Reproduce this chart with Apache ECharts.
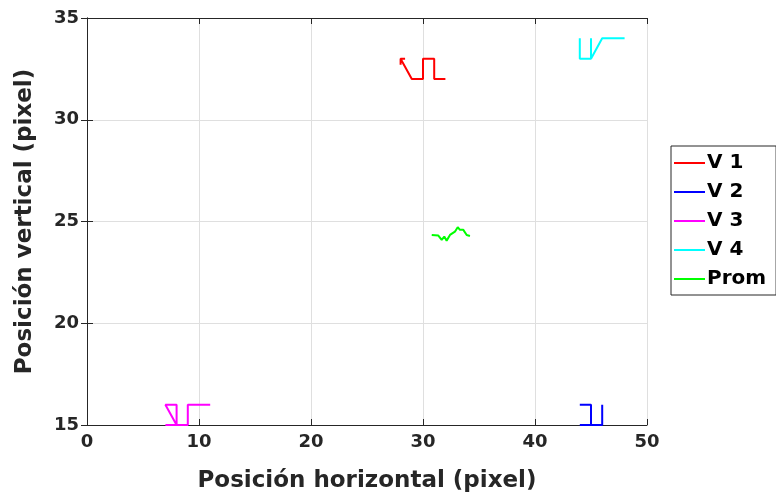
<!DOCTYPE html>
<html>
<head>
<meta charset="utf-8">
<script src="https://cdn.jsdelivr.net/npm/echarts@6/dist/echarts.min.js"></script>
<style>html,body{margin:0;padding:0;background:#fff}#c{width:776px;height:496px}</style>
</head>
<body>
<div id="c"></div>
<script>
const seriesNames = ['V 1', 'V 2', 'V 3', 'V 4', 'Prom'];
const seriesColors = ['#ff0000', '#0000ff', '#ff00ff', '#00ffff', '#00ff00'];
const v1X = [28.4, 28, 28, 28, 29, 30, 30, 31, 31, 32];
const v1Y = [33, 33, 32.7, 33, 32, 32, 33, 33, 32, 32];
const v2X = [44, 45, 45, 44, 46, 46];
const v2Y = [16, 16, 15, 15, 15, 16];
const v3X = [8, 8, 7, 8, 7, 9, 9, 11];
const v3Y = [15, 16, 16, 15, 15, 15, 16, 16];
const v4X = [44, 44, 45, 45, 45, 46, 48];
const v4Y = [34, 33, 33, 34, 33, 34, 34];
const promX = [30.78, 31.37, 31.67, 31.9, 32.11, 32.41, 32.85, 33.1, 33.3, 33.6, 33.9, 34.19];
const promY = [24.34, 24.31, 24.1, 24.26, 24.06, 24.34, 24.5, 24.72, 24.59, 24.59, 24.34, 24.29];
const xTicks = [0, 10, 20, 30, 40, 50];
const yTicks = [15, 20, 25, 30, 35];

const xs = [v1X, v2X, v3X, v4X, promX];
const ys = [v1Y, v2Y, v3Y, v4Y, promY];
const FONT = '"DejaVu Sans", sans-serif';
const axisCol = '#262626';

const series = seriesNames.map((n, i) => ({
  name: n, type: 'line', showSymbol: false, symbol: 'none',
  data: xs[i].map((x, k) => [x, ys[i][k]]),
  lineStyle: { color: seriesColors[i], width: 2 },
  itemStyle: { color: seriesColors[i] },
  animation: false
}));

const chart = echarts.init(document.getElementById('c'));
chart.setOption({
  animation: false,
  backgroundColor: '#ffffff',
  grid: { left: 87, right: 129, top: 18, bottom: 71, show: false, containLabel: false, outerBoundsMode: 'none' },
  legend: {
    data: seriesNames.map(n => ({ name: n, icon: 'rect' })),
    orient: 'vertical', left: 671, top: 146,
    itemWidth: 31, itemHeight: 2, itemGap: 9,
    padding: [7, 10, 6, 3],
    borderColor: '#262626', borderWidth: 1, backgroundColor: '#fff',
    textStyle: { fontFamily: FONT, fontWeight: 'bold', fontSize: 20, color: '#000', padding: [0, 0, 0, -3] }
  },
  xAxis: [{
    type: 'value', min: 0, max: 50, interval: 10,
    name: 'Posición horizontal (pixel)', nameLocation: 'middle', nameGap: 45,
    nameTextStyle: { fontFamily: FONT, fontWeight: 'bold', fontSize: 23, color: '#262626' },
    axisLine: { show: true, lineStyle: { color: axisCol, width: 1 } },
    axisTick: { show: true, inside: true, length: 6, lineStyle: { color: axisCol } },
    axisLabel: { fontFamily: FONT, fontWeight: 'bold', fontSize: 18, color: '#262626', margin: 8,
      formatter: v => xTicks.includes(v) ? String(v) : '' },
    splitLine: { show: true, lineStyle: { color: '#dfdfdf', width: 1 } }
  }, {
    type: 'value', min: 0, max: 50, interval: 10, position: 'top',
    axisLine: { show: true, lineStyle: { color: axisCol, width: 1 } },
    axisTick: { show: true, inside: true, length: 6, lineStyle: { color: axisCol } },
    axisLabel: { show: false }, splitLine: { show: false }
  }],
  yAxis: [{
    type: 'value', min: 15, max: 35, interval: 5,
    name: 'Posición vertical (pixel)', nameLocation: 'middle', nameGap: 50,
    nameTextStyle: { fontFamily: FONT, fontWeight: 'bold', fontSize: 23, color: '#262626' },
    axisLine: { show: true, lineStyle: { color: axisCol, width: 1 } },
    axisTick: { show: true, inside: true, length: 6, lineStyle: { color: axisCol } },
    axisLabel: { fontFamily: FONT, fontWeight: 'bold', fontSize: 18, color: '#262626', margin: 8,
      formatter: v => yTicks.includes(v) ? String(v) : '' },
    splitLine: { show: true, lineStyle: { color: '#dfdfdf', width: 1 } }
  }, {
    type: 'value', min: 15, max: 35, interval: 5, position: 'right',
    axisLine: { show: true, lineStyle: { color: axisCol, width: 1 } },
    axisTick: { show: true, inside: true, length: 6, lineStyle: { color: axisCol } },
    axisLabel: { show: false }, splitLine: { show: false }
  }],
  series: series
});
</script>
</body>
</html>
